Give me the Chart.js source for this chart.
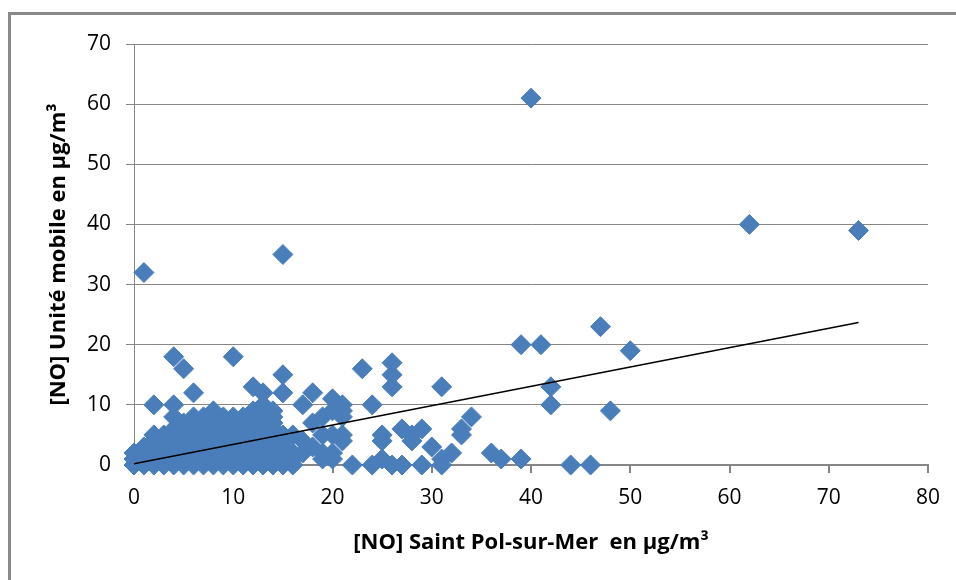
<!DOCTYPE html>
<html>
<head>
<meta charset="utf-8">
<script src="https://cdn.jsdelivr.net/npm/chart.js@4"></script>
<style>
    html, body { margin: 0; padding: 0; background: #fff; }
    #frame {
        position: absolute; left: 8px; top: 12px; width: 1000px; height: 620px;
        border-left: 3px solid #8a8a8a; border-top: 3px solid #8a8a8a;
    }
    #wrap { position: absolute; left: 0; top: 0; width: 956px; height: 580px; }
</style>
</head>
<body>
<div id="frame"></div>
<div id="wrap"><canvas id="chartCanvas" width="956" height="580"></canvas></div>
<script>
// [NO] Saint Pol-sur-Mer (x) / Unité mobile (y), µg/m³
const stationNO = [
    0, 0, 0,
    1, 1, 1, 1, 1,
    2, 2, 2, 2, 2, 2, 2,
    3, 3, 3, 3, 3, 3,
    4, 4, 4, 4, 4, 4, 4, 4, 4, 4,
    5, 5, 5, 5, 5, 5, 5, 5, 5,
    6, 6, 6, 6, 6, 6, 6, 6, 6,
    7, 7, 7, 7, 7, 7, 7, 7, 7,
    8, 8, 8, 8, 8, 8, 8, 8, 8, 8,
    9, 9, 9, 9, 9, 9, 9, 9, 9,
    10, 10, 10, 10, 10, 10, 10, 10, 10, 10,
    11, 11, 11, 11, 11, 11, 11, 11, 11,
    12, 12, 12, 12, 12, 12, 12, 12, 12, 12, 12,
    13, 13, 13, 13, 13, 13, 13, 13, 13, 13, 13,
    14, 14, 14, 14, 14, 14, 14, 14, 14, 14,
    15, 15, 15, 15, 15, 15, 15, 15,
    16, 16, 16, 16,
    17, 17, 17,
    18, 18, 18,
    19, 19, 19, 19,
    20, 20, 20, 20, 20,
    21, 21, 21, 21, 21,
    22,
    23,
    24, 24,
    25, 25, 25,
    26, 26, 26, 26,
    27, 27,
    28, 28,
    29, 29,
    30,
    31, 31, 31,
    32,
    33, 33,
    34,
    36,
    37,
    39, 39,
    40,
    41,
    42, 42,
    44,
    46,
    47,
    48,
    50,
    62,
    73
];
const mobileNO = [
    0, 1, 2,
    0, 1, 2, 3, 32,
    0, 1, 2, 3, 4, 5, 10,
    0, 1, 2, 3, 4, 5,
    0, 1, 2, 3, 4, 5, 6, 8, 10, 18,
    0, 1, 2, 3, 4, 5, 6, 7, 16,
    0, 1, 2, 3, 4, 5, 7, 8, 12,
    0, 1, 2, 3, 4, 5, 6, 7, 8,
    0, 1, 2, 3, 4, 5, 6, 7, 8, 9,
    0, 1, 2, 3, 4, 5, 6, 7, 8,
    0, 1, 2, 3, 4, 5, 6, 7, 8, 18,
    0, 1, 2, 3, 4, 5, 6, 7, 8,
    0, 1, 2, 3, 4, 5, 6, 7, 8, 9, 13,
    0, 2, 3, 4, 5, 6, 7, 8, 9, 10, 12,
    0, 1, 2, 3, 4, 5, 6, 7, 8, 9,
    0, 1, 3, 4, 5, 12, 15, 35,
    0, 1, 2, 5,
    2, 4, 10,
    3, 7, 12,
    1, 2, 5, 8,
    1, 2, 5, 9, 11,
    4, 5, 8, 9, 10,
    0,
    16,
    0, 10,
    1, 4, 5,
    0, 13, 15, 17,
    0, 6,
    4, 5,
    0, 6,
    3,
    0, 1, 13,
    2,
    5, 6,
    8,
    2,
    1,
    1, 20,
    61,
    20,
    10, 13,
    0,
    0,
    23,
    9,
    19,
    40,
    39
];

// courbe de tendance (extrémités)
const trendX = [0, 73];
const trendY = [0.2, 23.7];

// graduations
const xTicks = [0, 10, 20, 30, 40, 50, 60, 70, 80];
const yTicks = [0, 10, 20, 30, 40, 50, 60, 70];

const points = stationNO.map((x, i) => ({ x: x, y: mobileNO[i] }));
const trend = trendX.map((x, i) => ({ x: x, y: trendY[i] }));

const gridColor = '#868686';
const tickFont = { family: 'Open Sans', size: 21 };
const titleFont = { family: 'Open Sans', size: 22, weight: 'bold' };

const ctx = document.getElementById('chartCanvas').getContext('2d');
new Chart(ctx, {
    type: 'scatter',
    data: {
        datasets: [
            {
                type: 'line',
                label: 'tendance',
                data: trend,
                borderColor: '#000',
                borderWidth: 1.5,
                pointRadius: 0,
                fill: false,
                clip: false
            },
            {
                label: 'NO',
                data: points,
                pointStyle: 'rectRot',
                pointRadius: 10,
                pointHoverRadius: 10,
                backgroundColor: '#4a7ebb',
                borderColor: '#4a7ebb',
                borderWidth: 1,
                clip: false
            }
        ]
    },
    options: {
        responsive: false,
        animation: false,
        events: [],
        layout: { padding: { left: 0, top: 44, right: 28, bottom: 0 } },
        plugins: {
            legend: { display: false },
            tooltip: { enabled: false }
        },
        scales: {
            x: {
                type: 'linear',
                min: 0,
                max: 80,
                afterBuildTicks: (scale) => { scale.ticks = xTicks.map(v => ({ value: v })); },
                afterFit: (scale) => { scale.height = 115; },
                grid: { drawOnChartArea: false, drawTicks: true, tickLength: 8, color: gridColor, lineWidth: 2 },
                border: { display: true, color: gridColor, width: 2 },
                ticks: { font: tickFont, color: '#000', padding: 12, maxRotation: 0 },
                title: {
                    display: true,
                    text: '[NO] Saint Pol-sur-Mer  en µg/m³',
                    font: titleFont,
                    color: '#000',
                    padding: { top: 0, bottom: 24 }
                }
            },
            y: {
                type: 'linear',
                min: 0,
                max: 70,
                afterBuildTicks: (scale) => { scale.ticks = yTicks.map(v => ({ value: v })); },
                afterFit: (scale) => { scale.width = 134; },
                grid: { drawTicks: true, tickLength: 8, color: gridColor, lineWidth: 1 },
                border: { display: true, color: gridColor, width: 1 },
                ticks: { font: tickFont, color: '#000', padding: 15 },
                title: {
                    display: true,
                    text: '[NO] Unité mobile en µg/m³',
                    font: titleFont,
                    color: '#000',
                    padding: { top: 46, bottom: 0 }
                }
            }
        }
    }
});
</script>
</body>
</html>
